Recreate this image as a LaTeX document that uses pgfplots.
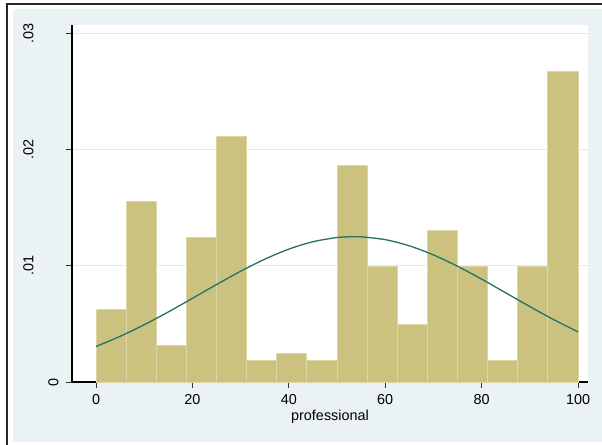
\documentclass[border=0pt]{standalone}
\usepackage{fontspec}
\setmainfont{Liberation Sans}
\usepackage{pgfplots}
\pgfplotsset{compat=1.18}

\definecolor{bgregion}{RGB}{234,242,243}
\definecolor{gridc}{RGB}{226,236,238}
\definecolor{barfill}{RGB}{202,194,126}
\definecolor{baredge}{RGB}{222,215,165}
\definecolor{normc}{RGB}{38,112,106}

\begin{document}
\begin{tikzpicture}[x=1bp,y=1bp]
  % page frame and graph region
  \path[use as bounding box] (0,0) rectangle (602,445);
  \fill[bgregion] (13,3) rectangle (602,436);
  \draw[black!85, line width=1.4bp] (7,0) -- (7,441) -- (602,441);

  \begin{axis}[
    at={(72bp,63bp)}, anchor=south west,
    scale only axis, width=516bp, height=357bp,
    xmin=-4.98, xmax=102.07, ymin=0, ymax=0.03075,
    axis background/.style={fill=white},
    axis x line*=bottom, axis y line*=left,
    axis line style={-, black, line width=1.1bp},
    tick align=outside, major tick length=6.5bp,
    tick style={black!80, line width=0.9bp},
    xtick={0,20,40,60,80,100},
    scaled y ticks=false,
    ytick={0.01,0.02,0.03}, yticklabels={.01,.02,.03},
    extra y ticks={0}, extra y tick labels={0},
    extra y tick style={grid=none, yticklabel style={yshift=-25bp}},
    ymajorgrids, major grid style={gridc, line width=1bp},
    /pgf/number format/assume math mode=true,
    tick label style={font=\fontsize{14.4bp}{17bp}\selectfont},
    xticklabel style={yshift=-2bp},
    yticklabel style={rotate=90, anchor=center, yshift=37bp},
    xlabel={professional},
    xlabel style={font=\fontsize{14.4bp}{17bp}\selectfont,
      at={(axis description cs:0.5,0)}, anchor=base, yshift=-39bp},
    clip=false,
  ]
    % density histogram, 16 bins of width 6.25
    \addplot[ybar interval, fill=barfill, draw=baredge, line width=0.9bp]
      coordinates {
        (0,0.00623) (6.25,0.01556) (12.5,0.00311) (18.75,0.01245)
        (25,0.02117) (31.25,0.00187) (37.5,0.00249) (43.75,0.00187)
        (50,0.01868) (56.25,0.00996) (62.5,0.00498) (68.75,0.01307)
        (75,0.00996) (81.25,0.00187) (87.5,0.00996) (93.75,0.02677)
        (100,0.02677)
      };
    % normal density overlay
    \addplot[normc, line width=1.3bp, smooth, mark=none]
      coordinates {
        (0,0.003059) (5,0.003932) (10,0.004932) (15,0.006034)
        (20,0.007205) (25,0.008392) (30,0.009538) (35,0.010577)
        (40,0.011444) (45,0.012080) (50,0.012443) (53.5,0.012518)
        (55,0.012504) (60,0.012260) (65,0.011729) (70,0.010948)
        (75,0.009970) (80,0.008859) (85,0.007681) (90,0.006497)
        (95,0.005362) (100,0.004318)
      };
  \end{axis}
\end{tikzpicture}
\end{document}
